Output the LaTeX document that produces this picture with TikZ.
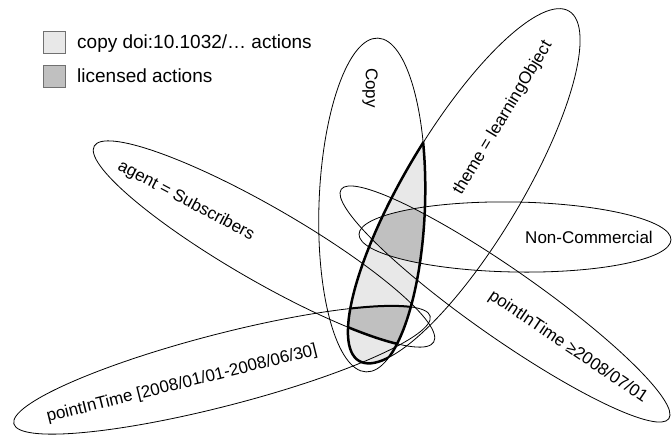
\documentclass[tikz,border=0pt]{standalone}
\usepackage{fontspec}
\setmainfont{Liberation Sans}
\definecolor{lightfill}{HTML}{E8E8E8}
\definecolor{darkfill}{HTML}{C0C0C0}
\definecolor{boxline}{HTML}{707070}
\def\ECopy{(0,0) ellipse [x radius=53, y radius=167]}
\def\ETheme{(0,0) ellipse [x radius=204, y radius=57.5]}
\def\ENC{(0,0) ellipse [x radius=156, y radius=35]}
\def\EPTb{(0,0) ellipse [x radius=200, y radius=34]}
\def\EAgent{(0,0) ellipse [x radius=196, y radius=37]}
\def\EPTa{(0,0) ellipse [x radius=215, y radius=36]}
\begin{document}
\begin{tikzpicture}[x=1pt,y=-1pt,
  outl/.style={draw=black, line width=0.8pt},
  lbl/.style={font=\fontsize{17}{20}\selectfont, inner sep=0pt},
  legtxt/.style={font=\fontsize{19}{22}\selectfont, inner sep=0pt, anchor=base west},
  legbox/.style={draw=boxline, line width=0.8pt, minimum size=22pt, inner sep=0pt},
  eCopy/.style={shift={(372,205)},rotate=-2},
  eTheme/.style={shift={(464,186)},rotate=59},
  eNC/.style={shift={(515,237)},rotate=-1},
  ePTb/.style={shift={(505,304)},rotate=-35},
  eAgent/.style={shift={(264,244)},rotate=-30},
  ePTa/.style={shift={(222,370)},rotate=14.5}]
\useasboundingbox (0,0) rectangle (672,434);
% fills
\begin{scope}
  \clip[eCopy] \ECopy;
  \fill[eTheme, lightfill] \ETheme;
  \begin{scope}
    \clip[eTheme] \ETheme;
    \begin{scope}\clip[eNC] \ENC; \fill[ePTb, darkfill] \EPTb; \end{scope}
    \begin{scope}\clip[eAgent] \EAgent; \fill[ePTa, darkfill] \EPTa; \end{scope}
  \end{scope}
\end{scope}
% outlines
\draw[outl, eCopy] \ECopy;
\draw[outl, eTheme] \ETheme;
\draw[outl, eNC] \ENC;
\draw[outl, ePTb] \EPTb;
\draw[outl, eAgent] \EAgent;
\draw[outl, ePTa] \EPTa;
% bold lens
\begin{scope}\clip[eCopy] \ECopy; \draw[eTheme, line width=2.5pt] \ETheme;\end{scope}
\begin{scope}\clip[eTheme] \ETheme; \draw[eCopy, line width=2.5pt] \ECopy;\end{scope}
% lower licensed region outline
\begin{scope}
  \clip[eCopy] \ECopy; \clip[eTheme] \ETheme;
  \begin{scope}\clip[eAgent] \EAgent; \draw[ePTa, line width=2pt] \EPTa;\end{scope}
  \begin{scope}\clip[ePTa] \EPTa; \draw[eAgent, line width=2.5pt] \EAgent;\end{scope}
\end{scope}
% labels
\node[lbl, rotate=-90] (copylbl) at (370,88) {Copy};
\node[lbl, rotate=59] (themelbl) at (503,118) {theme = learningObject};
\node[lbl, rotate=-28] (agentlbl) at (186,201) {agent = Subscribers};
\node[lbl, rotate=14] (ptalbl) at (182,384) {pointInTime [2008/01/01-2008/06/30]};
\node[lbl, rotate=-34] (ptblbl) at (568,347) {pointInTime ≥2008/07/01};
\node[lbl] (nclbl) at (589,237) {Non-Commercial};
% legend
\node[legbox, fill=lightfill] (lb1) at (54.5,42) {};
\node[legbox, fill=darkfill] (lb2) at (54.5,76) {};
\node[legtxt] (lt1) at (77,48) {copy doi:10.1032/… actions};
\node[legtxt] (lt2) at (77,82) {licensed actions};
\end{tikzpicture}
\end{document}
